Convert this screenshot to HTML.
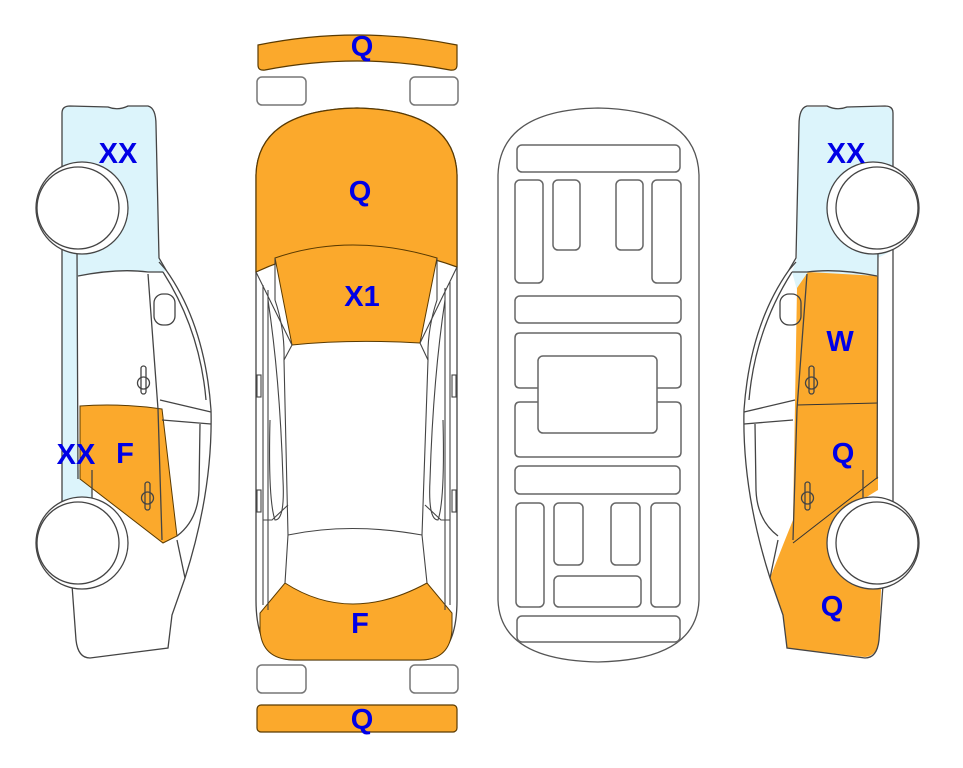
<!DOCTYPE html>
<html><head><meta charset="utf-8"><style>
html,body{margin:0;padding:0;background:#fff;width:963px;height:768px;overflow:hidden}
text{font-family:"Liberation Sans",Arial,sans-serif;font-weight:bold;fill:#0000e6;font-size:29px;text-anchor:middle}
</style></head><body>
<svg width="963" height="768" viewBox="0 0 963 768" xmlns="http://www.w3.org/2000/svg">
<defs>
<g id="side" fill="none" stroke="#444" stroke-width="1.3">
  <path d="M62,505 L62,113 Q62,106 70,106 L108,107 Q118,111 128,106 L148,106 Q156,108 156,125 L159,258 L166,270 Q205,325 211,410 Q213,490 185,578 L172,615 L168,648 L90,658 Q78,658 76,640 L72,585"/>
  <path d="M77,250 L78,479 M92,470 L92,503"/>
  <path d="M78,276 Q118,268 148,272 L163,272"/>
  <path d="M148,274 L158,409 L162,540"/>
  <path d="M163,272 Q200,330 206,400"/>
  <path d="M160,400 L211,412 M162,420 L211,424"/>
  <path d="M177,536 Q198,520 199,490 L200,424"/>
  <path d="M177,540 L185,578"/>
  <path d="M166,270 L159,262"/>
  <rect x="154" y="294" width="21" height="31" rx="9"/>
  <rect x="141" y="366" width="5" height="28" rx="2.5"/>
  <circle cx="143.5" cy="383" r="6"/>
  <rect x="145" y="482" width="5" height="28" rx="2.5"/>
  <circle cx="147.5" cy="498" r="6"/>
  <circle cx="82" cy="208" r="46" fill="#fff"/>
  <circle cx="78" cy="208" r="41" fill="#fff"/>
  <circle cx="82" cy="543" r="46" fill="#fff"/>
  <circle cx="78" cy="543" r="41" fill="#fff"/>
</g>
</defs>

<path d="M62,505 L62,113 Q62,106 70,106 L108,107 Q118,111 128,106 L148,106 Q156,108 156,125 L159,258 L166,270 L163,273 Q118,268 78,276 L78,470 L92,470 L92,503 Z" fill="#dcf4fb"/>
<path d="M80,406 Q120,403 162,409 L177,536 L163,543 L80,479 Z" fill="#fba92c" stroke="#5a3a00" stroke-width="1"/>

<path d="M797,290 L792,272 L797,258 L799,125 Q799,107 807,107 L827,107 Q837,111 847,107 L885,107 Q893,107 893,115 L893,250 L878,258 L878,276 Z" fill="#dcf4fb"/>
<path d="M797,288 L808,272 L878,276 L878,490 L865,498 L881,590 L879,640 Q877,656 865,657 L787,648 L783,615 L770,578 L783,545 L793,520 Z" fill="#fba92c"/>
<path d="M797,405 L878,403 M878,477 L793,543" fill="none" stroke="#333" stroke-width="1"/>

<use href="#side"/>
<use href="#side" transform="translate(955,0) scale(-1,1)"/>

<path d="M258,45 Q357,25 457,45 L457,65 Q457,71 450,70 Q357,52 265,70 Q258,71 258,65 Z" fill="#fba92c" stroke="#5a3a00" stroke-width="1.2"/>
<rect x="257" y="77" width="49" height="28" rx="5" fill="#fff" stroke="#777" stroke-width="1.5"/>
<rect x="410" y="77" width="48" height="28" rx="5" fill="#fff" stroke="#777" stroke-width="1.5"/>
<rect x="257" y="665" width="49" height="28" rx="5" fill="#fff" stroke="#777" stroke-width="1.5"/>
<rect x="410" y="665" width="48" height="28" rx="5" fill="#fff" stroke="#777" stroke-width="1.5"/>
<rect x="257" y="705" width="200" height="27" rx="4" fill="#fba92c" stroke="#5a3a00" stroke-width="1.2"/>

<path d="M256,272 L256,175 Q258,110 357,108 Q455,110 457,175 L457,267 L457,600 Q457,660 420,660 L295,660 Q256,660 256,600 Z" fill="#fff" stroke="#444" stroke-width="1.3"/>
<path d="M256,272 L256,175 Q258,110 357,108 Q455,110 457,175 L457,267 Q350,228 256,272 Z" fill="#fba92c" stroke="#5a3a00" stroke-width="1.2"/>
<path d="M275,258 Q350,232 437,258 L420,343 Q350,339 292,345 Z" fill="#fba92c" stroke="#5a3a00" stroke-width="1"/>
<path d="M285,583 Q350,625 427,583 L452,613 L452,630 Q450,660 420,660 L295,660 Q262,660 260,630 L260,613 Z" fill="#fba92c" stroke="#5a3a00" stroke-width="1"/>
<g fill="none" stroke="#444" stroke-width="1.1">
  <path d="M256,272 L292,345 M457,267 L420,343"/>
  <path d="M275,258 L275,300 Q285,330 284,360 L288,535 L285,583"/>
  <path d="M437,258 L437,300 Q427,330 428,360 L422,535 L427,583"/>
  <path d="M292,345 L284,360 M420,343 L428,360"/>
  <path d="M263,285 L263,605 M268,290 L268,610 M450,282 L450,605 M445,288 L445,610"/>
  <path d="M268,300 Q280,380 283,480 Q285,520 275,520 Q268,500 270,420"/>
  <path d="M445,300 Q433,380 430,480 Q428,520 438,520 Q445,500 443,420"/>
  <path d="M288,535 Q350,522 422,535"/>
  <path d="M263,520 L272,520 L288,505 M450,520 L441,520 L425,505"/>
  <rect x="257" y="375" width="4" height="22"/><rect x="452" y="375" width="4" height="22"/>
  <rect x="257" y="490" width="4" height="22"/><rect x="452" y="490" width="4" height="22"/>
</g>

<g fill="none" stroke="#666" stroke-width="1.5">
  <path d="M498,600 L498,175 Q500,110 598,108 Q697,110 699,175 L699,600 Q697,660 598,662 Q500,660 498,600 Z" stroke="#555" stroke-width="1.3"/>
  <rect x="517" y="145" width="163" height="27" rx="5"/>
  <rect x="515" y="180" width="28" height="103" rx="5"/>
  <rect x="553" y="180" width="27" height="70" rx="5"/>
  <rect x="616" y="180" width="27" height="70" rx="5"/>
  <rect x="652" y="180" width="29" height="103" rx="5"/>
  <rect x="515" y="296" width="166" height="27" rx="5"/>
  <path d="M538,388 L520,388 Q515,388 515,383 L515,338 Q515,333 520,333 L676,333 Q681,333 681,338 L681,383 Q681,388 676,388 L657,388"/>
  <path d="M538,402 L520,402 Q515,402 515,407 L515,452 Q515,457 520,457 L676,457 Q681,457 681,452 L681,407 Q681,402 676,402 L657,402"/>
  <rect x="538" y="356" width="119" height="77" rx="5"/>
  <rect x="515" y="466" width="165" height="28" rx="5"/>
  <rect x="516" y="503" width="28" height="104" rx="5"/>
  <rect x="554" y="503" width="29" height="62" rx="5"/>
  <rect x="611" y="503" width="29" height="62" rx="5"/>
  <rect x="651" y="503" width="29" height="104" rx="5"/>
  <rect x="554" y="576" width="87" height="31" rx="5"/>
  <rect x="517" y="616" width="163" height="26" rx="5"/>
</g>

<text x="362" y="56">Q</text>
<text x="360" y="201">Q</text>
<text x="362" y="306">X1</text>
<text x="360" y="633">F</text>
<text x="362" y="729">Q</text>
<text x="118" y="163">XX</text>
<text x="76" y="464">XX</text>
<text x="125" y="463">F</text>
<text x="846" y="163">XX</text>
<text x="840" y="351">W</text>
<text x="843" y="463">Q</text>
<text x="832" y="616">Q</text>
</svg>
</body></html>
